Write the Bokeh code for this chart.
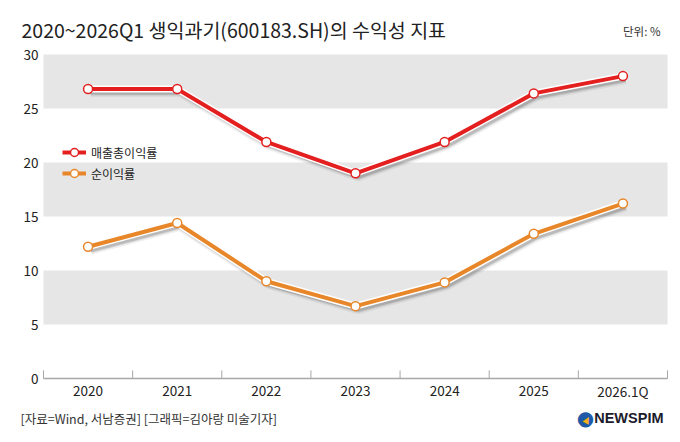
from bokeh.plotting import figure
from bokeh.models import ColumnDataSource, BoxAnnotation, Label, Legend, LegendItem, Range1d
from bokeh.transform import dodge
from bokeh.embed import file_html
from bokeh.resources import INLINE

# data (%)
years = ["2020", "2021", "2022", "2023", "2024", "2025", "2026.1Q"]
gross_margin = [26.8, 26.8, 21.9, 19.0, 21.9, 26.4, 28.0]
net_margin = [12.2, 14.4, 9.0, 6.7, 8.9, 13.4, 16.2]
y_ticks = [0, 5, 10, 15, 20, 25, 30]
bands = [(5, 10), (15, 20), (25, 30)]

title_text = "2020~2026Q1 생익과기(600183.SH)의 수익성 지표"
unit_text = "단위: %"
source_text = "[자료=Wind, 서남증권] [그래픽=김아랑 미술기자]"

FONT = "Noto Sans CJK KR"
RED = "#e3201f"
ORANGE = "#e8872a"
AXIS = "#a8a8a8"

W, H = 680, 442
# plot area inside the canvas (pixels): left 43, right 667, top 54 (=30), bottom 378 (=0)
n = len(years)
px_per_cat = (667 - 43) / n
px_per_unit = (378 - 54) / 30

# the whole canvas is the frame, so every text can sit inside it
p = figure(width=W, height=H, output_backend="svg", toolbar_location=None,
           x_axis_location=None, y_axis_location=None,
           x_range=Range1d(-0.5 - 43 / px_per_cat, n - 0.5 + (W - 667) / px_per_cat),
           y_range=Range1d(-(H - 378) / px_per_unit, 30 + 54 / px_per_unit),
           min_border=0)
p.outline_line_color = None
p.grid.grid_line_color = None

xs = list(range(n))
src = ColumnDataSource(dict(x=xs, year=years, gross=gross_margin, net=net_margin))

for lo, hi in bands:
    p.add_layout(BoxAnnotation(bottom=lo, top=hi, left=-0.5, right=n - 0.5,
                               fill_color="#e6e6e6", fill_alpha=1, line_color=None,
                               level="underlay"))

# x axis: base line, tick marks between categories, labels
p.segment(x0=-0.5, x1=n - 0.5, y0=0, y1=0, line_color=AXIS, line_width=1.5)
edges = [i - 0.5 for i in range(n + 1)]
p.segment(x0=edges, x1=edges, y0=0, y1=0.75, line_color=AXIS, line_width=1)
p.text(x="x", y=-1.15, text="year", source=src,
       text_font={"value": FONT}, text_font_size="13.5px", text_color="#222222",
       text_align="center", text_baseline="middle")

# y axis labels
p.text(x=-0.5 - 5 / px_per_cat, y=y_ticks, text=[str(t) for t in y_ticks],
       text_font={"value": FONT}, text_font_size="13.5px", text_color="#222222",
       text_align="right", text_baseline="middle")

legend_items = []
for col, color, name in [("gross", RED, "매출총이익률"), ("net", ORANGE, "순이익률")]:
    # soft drop shadow
    for w, a in [(9, 0.08), (6, 0.14), (4, 0.2)]:
        p.line(dodge("x", 0.03), dodge(col, -0.32), source=src,
               line_color="#444444", line_alpha=a, line_width=w, line_join="round")
    p.line("x", col, source=src, line_color="white", line_width=7, line_join="round")
    ln = p.line("x", col, source=src, line_color=color, line_width=4, line_join="round")
    pts = p.scatter("x", col, source=src, size=9, fill_color="white",
                    line_color=color, line_width=1.5)
    legend_items.append(LegendItem(label=name, renderers=[ln, pts]))

legend = Legend(items=legend_items, location=(62, H - 183), background_fill_alpha=0,
                border_line_color=None, padding=0, margin=0, spacing=1,
                glyph_width=24, glyph_height=20, label_standoff=5,
                label_text_font=FONT, label_text_font_size="12px",
                label_text_color="#222222")
p.add_layout(legend, "center")

# title, unit, source note
p.add_layout(Label(x=21, y=H - 29, x_units="screen", y_units="screen", text=title_text,
                   text_font=FONT, text_font_size="19.5px", text_color="#222222",
                   text_baseline="middle"))
p.add_layout(Label(x=660, y=H - 30, x_units="screen", y_units="screen", text=unit_text,
                   text_font=FONT, text_font_size="11.5px", text_color="#333333",
                   text_baseline="middle", text_align="right"))
p.add_layout(Label(x=20, y=H - 418, x_units="screen", y_units="screen", text=source_text,
                   text_font=FONT, text_font_size="12.5px", text_color="#333333",
                   text_baseline="middle"))

# NEWSPIM logo
p.add_layout(Label(x=585, y=H - 417, x_units="screen", y_units="screen", text="●",
                   text_font="DejaVu Sans", text_font_size="20px", text_color="#1f5aa8",
                   text_baseline="middle", text_align="center"))
p.add_layout(Label(x=587, y=H - 419, x_units="screen", y_units="screen", text="▲",
                   text_font="DejaVu Sans", text_font_size="9px", text_color="#f2b01e",
                   text_baseline="middle", text_align="center", angle=-0.5))
p.add_layout(Label(x=663, y=H - 417, x_units="screen", y_units="screen", text="NEWSPIM",
                   text_font="Liberation Sans", text_font_size="14.5px",
                   text_font_style="bold", text_color="#1b1b2b",
                   text_baseline="middle", text_align="right"))

open("out.html", "w").write(file_html(p, INLINE))
